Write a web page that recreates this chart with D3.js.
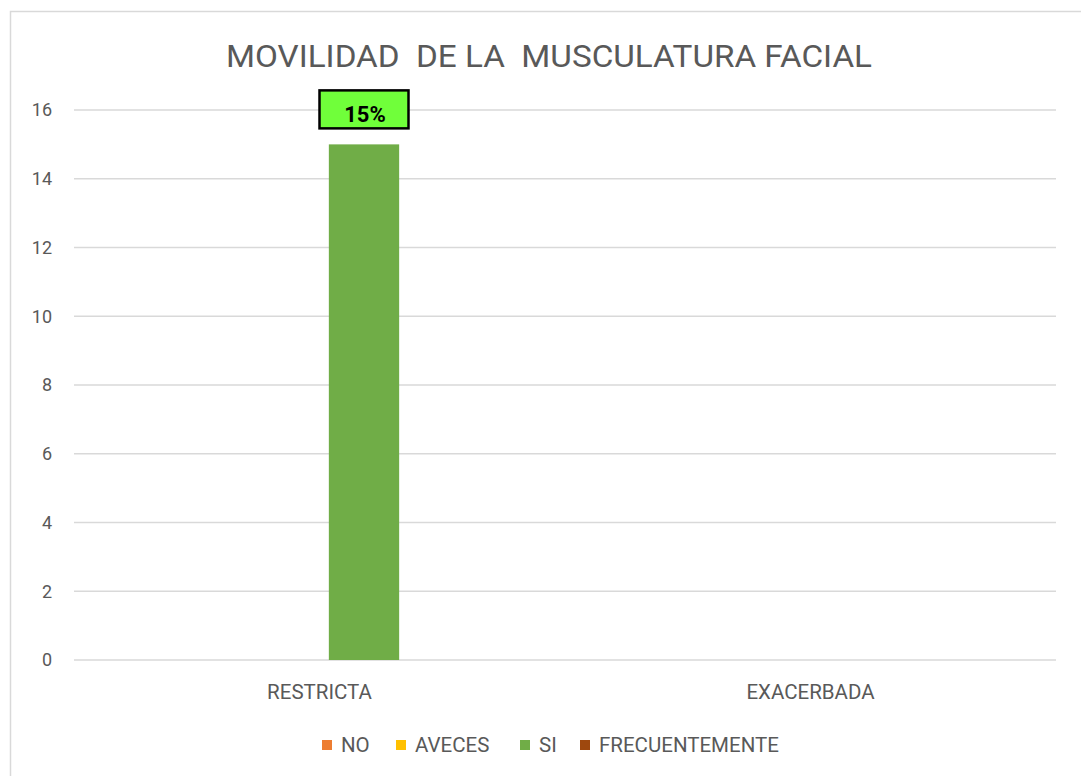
<!DOCTYPE html>
<html>
<head>
<meta charset="utf-8">
<script src="https://cdn.jsdelivr.net/npm/d3@7/dist/d3.min.js"></script>
<style>
  html, body { margin: 0; padding: 0; background: #fff; }
  svg { display: block; font-family: "Roboto", sans-serif; }
</style>
</head>
<body>
<svg id="chart" width="1081" height="776"></svg>
<script>
// chart data
const categories = ["RESTRICTA", "EXACERBADA"];
const series = ["NO", "AVECES", "SI", "FRECUENTEMENTE"];
const colors = ["#ED7D31", "#FFC000", "#70AD47", "#9E480E"];
// values[seriesIndex][categoryIndex]; null = no bar
const values = [
  [null, null],
  [null, null],
  [15, null],
  [null, null]
];
const labels = [
  [null, null],
  [null, null],
  ["15%", null],
  [null, null]
];
const yTicks = [0, 2, 4, 6, 8, 10, 12, 14, 16];

const svg = d3.select("#chart");
const textColor = "#595959";
const gridColor = "#D9D9D9";

// outer chart frame (right/bottom fall off the picture)
svg.append("rect")
  .attr("x", 10.5).attr("y", 11.5)
  .attr("width", 1200).attr("height", 900)
  .attr("fill", "none").attr("stroke", gridColor).attr("stroke-width", 1.5);

const plot = { left: 74, right: 1056, top: 110, bottom: 660 };

const y = d3.scaleLinear().domain([0, 16]).range([plot.bottom, plot.top]);
const x0 = d3.scaleBand().domain(categories).range([plot.left, plot.right]);
const x1 = d3.scaleBand().domain(series)
  .range([x0.bandwidth() / 2 - 178, x0.bandwidth() / 2 + 178])
  .paddingInner(0.21).paddingOuter(0.105);

// title
svg.append("text")
  .attr("x", 549).attr("y", 67)
  .attr("text-anchor", "middle")
  .attr("font-size", 31)
  .attr("fill", textColor)
  .attr("textLength", 646)
  .attr("lengthAdjust", "spacingAndGlyphs")
  .style("white-space", "pre")
  .text("MOVILIDAD  DE LA  MUSCULATURA FACIAL");

// gridlines + y labels
const grid = svg.append("g");
yTicks.forEach(t => {
  grid.append("line")
    .attr("x1", plot.left).attr("x2", plot.right)
    .attr("y1", y(t)).attr("y2", y(t))
    .attr("stroke", gridColor).attr("stroke-width", 1.5);
  grid.append("text")
    .attr("x", 52).attr("y", y(t))
    .attr("dy", "0.35em")
    .attr("text-anchor", "end")
    .attr("font-size", 18)
    .attr("fill", textColor)
    .text(t);
});

// category labels
categories.forEach(c => {
  svg.append("text")
    .attr("x", x0(c) + x0.bandwidth() / 2).attr("y", 692)
    .attr("dy", "0.35em")
    .attr("text-anchor", "middle")
    .attr("font-size", 20.5)
    .attr("fill", textColor)
    .text(c);
});

// bars
series.forEach((s, si) => {
  categories.forEach((c, ci) => {
    const v = values[si][ci];
    if (v == null) return;
    const bx = x0(c) + x1(s);
    svg.append("rect")
      .attr("x", bx).attr("y", y(v))
      .attr("width", x1.bandwidth())
      .attr("height", y(0) - y(v))
      .attr("fill", colors[si]);
    const lab = labels[si][ci];
    if (lab) {
      const cx = bx + x1.bandwidth() / 2;
      const by = y(v) - 16;
      svg.append("rect")
        .attr("x", cx - 44.5).attr("y", by - 38)
        .attr("width", 89).attr("height", 38)
        .attr("fill", "#70FF3A")
        .attr("stroke", "#000").attr("stroke-width", 2.5);
      svg.append("text")
        .attr("x", cx + 1).attr("y", by - 6)
        .attr("text-anchor", "middle")
        .attr("font-size", 22)
        .attr("font-weight", "bold")
        .attr("fill", "#000")
        .text(lab);
    }
  });
});

// legend
const legendX = [322, 396, 520, 580];
const legend = svg.append("g");
series.forEach((s, i) => {
  legend.append("rect")
    .attr("x", legendX[i]).attr("y", 740)
    .attr("width", 10).attr("height", 10)
    .attr("fill", colors[i]);
  legend.append("text")
    .attr("x", legendX[i] + 19).attr("y", 745)
    .attr("dy", "0.35em")
    .attr("font-size", 20.5)
    .attr("fill", textColor)
    .text(s);
});
</script>
</body>
</html>
